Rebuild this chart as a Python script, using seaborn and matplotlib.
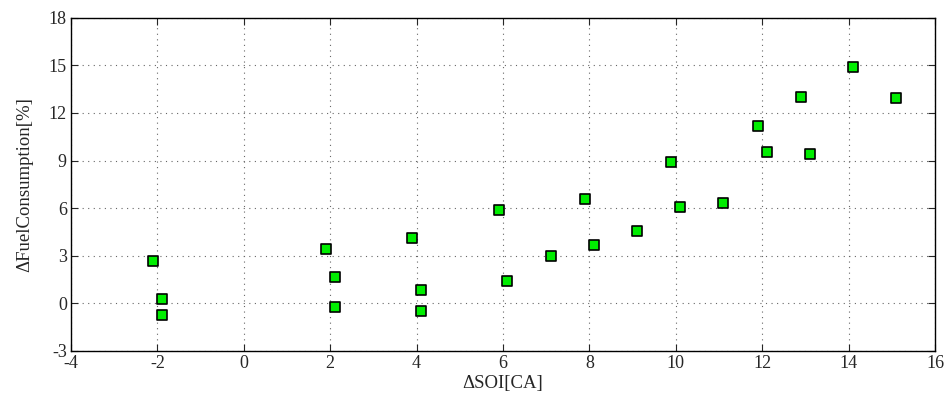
import numpy as np
import pandas as pd
import matplotlib
matplotlib.use("Agg")
import matplotlib.pyplot as plt
import seaborn as sns

# Data
soi = [-2.1, -1.9, -1.9, 1.9, 2.1, 2.1, 3.9, 4.1, 4.1, 5.9, 6.1, 7.1,
       7.9, 8.1, 9.1, 9.9, 10.1, 11.1, 11.9, 12.1, 12.9, 13.1, 14.1, 15.1]
fuel = [2.65, 0.27, -0.71, 3.41, 1.64, -0.23, 4.14, 0.84, -0.48, 5.9, 1.42, 3.0,
        6.6, 3.7, 4.56, 8.93, 6.07, 6.3, 11.18, 9.54, 13.0, 9.39, 14.9, 12.92]
x_ticks = [-4, -2, 0, 2, 4, 6, 8, 10, 12, 14, 16]
y_ticks = [-3, 0, 3, 6, 9, 12, 15, 18]

df = pd.DataFrame({"soi": soi, "fuel": fuel})

sns.set_style("ticks")
plt.rcParams['font.family'] = ['Liberation Serif', 'DejaVu Serif']
plt.rcParams['axes.unicode_minus'] = False

fig = plt.figure(figsize=(9.48, 4.01), dpi=100)
ax = fig.add_axes([0.0749, 0.1247, 0.9114, 0.8312])

sns.scatterplot(data=df, x="soi", y="fuel", marker="s", s=44,
                color="#00ee00", edgecolor="black", linewidth=1.2, ax=ax, zorder=3)

ax.set_xlim(-4, 16)
ax.set_ylim(-3, 18)
ax.set_xticks(x_ticks)
ax.set_yticks(y_ticks)
ax.grid(True, linestyle=(0, (1, 4)), color="#666666", linewidth=0.8)
ax.tick_params(direction="in", top=True, right=True, labelsize=13, length=5, width=0.8, pad=3)
for s in ax.spines.values():
    s.set_linewidth(1.0)
    s.set_color("black")

ax.set_xlabel("ΔSOI[CA]", fontsize=13.5, labelpad=2)
ax.set_ylabel("ΔFuelConsumption[%]", fontsize=13.5, labelpad=11)

fig.savefig("out.png", dpi=100)
